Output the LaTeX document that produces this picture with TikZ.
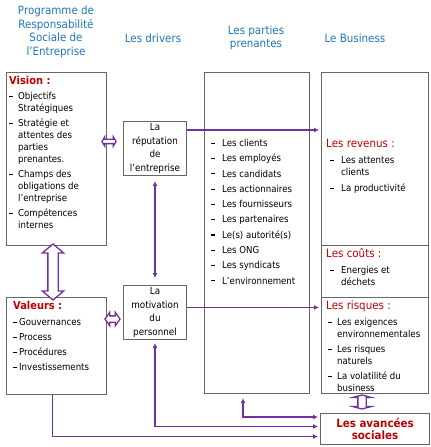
\documentclass[tikz,border=0pt]{standalone}
\usepackage{fontspec}
\setsansfont[FakeStretch=0.9]{DejaVu Sans}
\usetikzlibrary{arrows.meta,shapes.arrows}

% dash bullet and hanging indent for the lists
\newcommand\dsh[1][9bp]{\makebox[#1][l]{\rule[2.7bp]{4bp}{1.1bp}}}
\newcommand\ind[1][9bp]{\hspace*{#1}}

\begin{document}
\begin{tikzpicture}[x=1bp,y=-1bp,>={Latex[length=5bp,width=5bp]},font=\sffamily,
  panel/.style={draw=black!60,line width=1bp,inner sep=0pt,anchor=north west},
  heading/.style={title,align=center,font=\sffamily\fontsize{11.5}{13.5}\selectfont},
  listtext/.style={inner sep=0pt,anchor=north west,align=left,
    font=\sffamily\fontsize{9.6}{12}\selectfont},
  driver/.style={inner sep=0pt,align=center,font=\sffamily\fontsize{9.8}{13.5}\selectfont},
  flow/.style={link,line width=1.6bp},
  hollow/.style={double arrow,draw=link,fill=white,line width=1.3bp,inner xsep=0pt}]
\definecolor{link}{RGB}{112,48,160}
\definecolor{title}{RGB}{31,117,189}
\definecolor{topic}{RGB}{192,0,0}

\useasboundingbox (0,0) rectangle (430,447);

% Column headings.
\node[heading] (hprog) at (56,32)
  {Programme de\\Responsabilité\\Sociale de\\l’Entreprise};
\node[heading] (hdriv) at (153,38) {Les drivers};
\node[heading] (hpart) at (256,38) {Les parties\\prenantes};
\node[heading] (hbiz) at (355,38) {Le Business};

% Boxes.
\node[panel,minimum width=100bp,minimum height=173bp] (vision) at (6,72) {};
\node[panel,minimum width=100bp,minimum height=97bp] (valeurs) at (6,297) {};
\node[panel,minimum width=63bp,minimum height=54bp] (reput) at (123,121) {};
\node[panel,minimum width=63bp,minimum height=54bp] (motiv) at (123,285) {};
\node[panel,minimum width=105bp,minimum height=321bp] (parties) at (204,72) {};
\node[panel,minimum width=107bp,minimum height=173bp] (revenus) at (321,72) {};
\node[panel,minimum width=107bp,minimum height=52bp] (couts) at (321,245) {};
\node[panel,minimum width=107bp,minimum height=96bp] (risques) at (321,297) {};
\node[panel,minimum width=109bp,minimum height=31bp] (avancees) at (320,413) {};

% Box contents.
\node[listtext] (visiontxt) at (9,76)
  {{\color{topic}\bfseries\fontsize{11}{12}\selectfont Vision :}\\[3.5bp]
   \dsh Objectifs\\ \ind Stratégiques\\[3bp]
   \dsh Stratégie et\\ \ind attentes des\\ \ind parties\\ \ind prenantes.\\[3bp]
   \dsh Champs des\\ \ind obligations de\\ \ind l’entreprise\\[3bp]
   \dsh Compétences\\ \ind internes};
\node[listtext] (valeurstxt) at (13,301)
  {{\color{topic}\bfseries\fontsize{11}{12}\selectfont Valeurs :}\\[4bp]
   \dsh[6bp]Gouvernances\\[3bp]
   \dsh[6bp]Process\\[3bp]
   \dsh[6bp]Procédures\\[3bp]
   \dsh[6bp]Investissements};
\node[driver] (reputtxt) at (reput.center)
  {La\\réputation\\de\\l’entreprise};
\node[driver] (motivtxt) at (motiv.center)
  {La\\motivation\\du\\personnel};
\node[listtext,font=\sffamily\fontsize{9.6}{15.35}\selectfont] (partiestxt) at (211,139)
  {\dsh[11bp]Les clients\\ \dsh[11bp]Les employés\\ \dsh[11bp]Les candidats\\
   \dsh[11bp]Les actionnaires\\ \dsh[11bp]Les fournisseurs\\
   \dsh[11bp]Les partenaires\\ \dsh[11bp]Le(s) autorité(s)\\ \dsh[11bp]Les ONG\\
   \dsh[11bp]Les syndicats\\ \dsh[11bp]L’environnement};
\node[listtext] (revenustxt) at (326,139)
  {{\color{topic}\fontsize{11.5}{12}\selectfont Les revenus :}\\[4bp]
   \ind[4bp]\dsh[11bp]Les attentes\\ \ind[15bp]clients\\[4bp]
   \ind[4bp]\dsh[11bp]La productivité};
\node[listtext] (coutstxt) at (326,248)
  {{\color{topic}\fontsize{11.5}{12}\selectfont Les coûts :}\\[4bp]
   \ind[4bp]\dsh[11bp]Energies et\\ \ind[15bp]déchets};
\node[listtext] (risquestxt) at (326,301)
  {{\color{topic}\fontsize{11.5}{12}\selectfont Les risques :}\\[4bp]
   \ind[2bp]\dsh Les exigences\\ \ind[11bp]environnementales\\[3bp]
   \ind[2bp]\dsh Les risques\\ \ind[11bp]naturels\\[3bp]
   \ind[2bp]\dsh La volatilité du\\ \ind[11bp]business};
\node[align=center,inner sep=0pt,text=topic,
  font=\sffamily\bfseries\fontsize{11.5}{13}\selectfont] (avancetxt) at (avancees.center)
  {Les avancées\\sociales};

% Hollow double arrows between neighbouring boxes.
\node[hollow,minimum height=14bp,inner ysep=1.5bp,double arrow head extend=2.5bp,
  double arrow tip angle=120] (visreput) at (109,141.5) {};
\node[hollow,minimum height=15bp,inner ysep=2.5bp,double arrow head extend=3.5bp,
  double arrow tip angle=110] (valmotiv) at (112.5,319) {};
\node[hollow,rotate=90,minimum height=56bp,inner ysep=4.5bp,double arrow head extend=5.5bp,
  double arrow tip angle=100] (visval) at (53,272) {};
\node[hollow,rotate=90,minimum height=14bp,inner ysep=3.5bp,double arrow head extend=5.5bp,
  double arrow tip angle=150] (risqav) at (362,402) {};

% Purple connectors.
\coordinate (r1) at ([yshift=-9bp]reput.north east);
\coordinate (m1) at ([yshift=5bp]motiv.east);
\coordinate (a1) at ([yshift=12bp]avancees.west);
\coordinate (a2) at ([yshift=2.5bp]avancees.west);
\coordinate (a3) at ([yshift=-7.5bp]avancees.west);
\coordinate (p1) at ([xshift=-14bp]parties.south);
\coordinate (v1) at ([xshift=-4bp]valeurs.south);

\draw[flow,->,shorten >=2bp] (r1) -- (r1 -| revenus.west);
\draw[flow,->,shorten >=2bp] (m1) -- (m1 -| risques.west);
\draw[flow,<->,shorten <=5bp,shorten >=7bp] (reput.south) -- (motiv.north);
\draw[flow,<->,shorten <=4bp,shorten >=2bp] (p1) |- (a1);
\draw[flow,<->,shorten <=3bp,shorten >=2bp] (motiv.south) |- (a2);
\draw[flow,->,shorten >=2bp] (v1) |- (a3);

\end{tikzpicture}
\end{document}
